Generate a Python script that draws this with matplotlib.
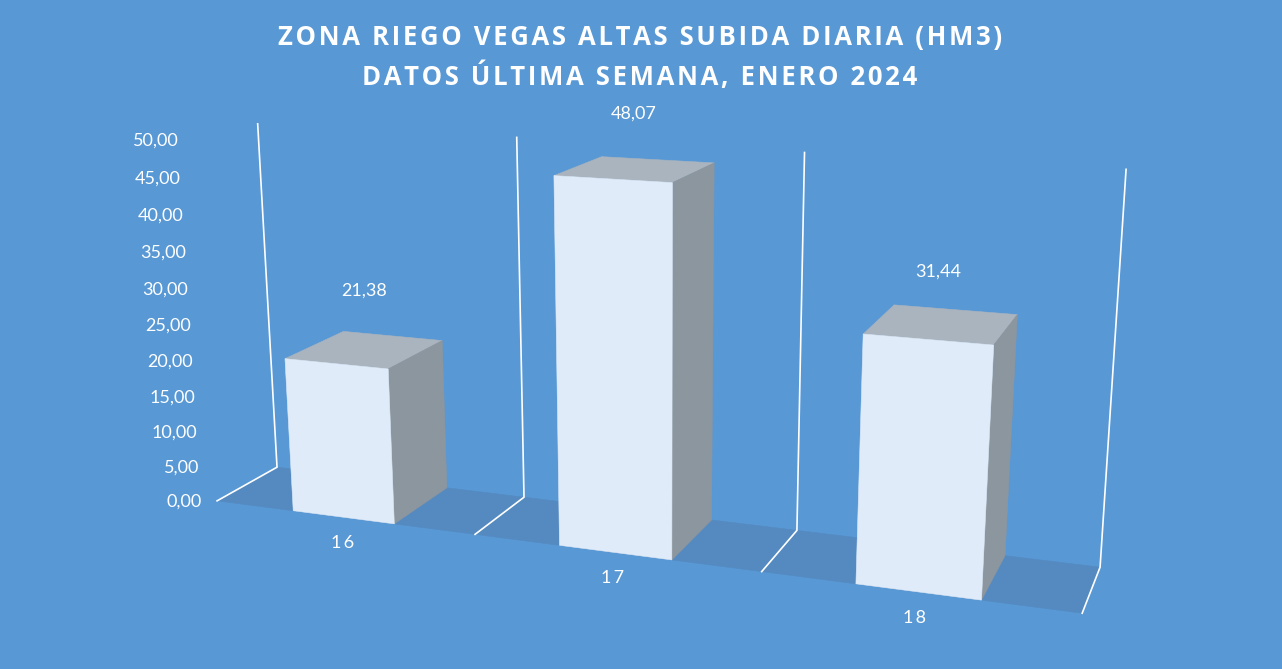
import numpy as np
import matplotlib
matplotlib.use("Agg")
import matplotlib.pyplot as plt

# --- data ---
categories = ["16", "17", "18"]
values = [21.38, 48.07, 31.44]
value_labels = ["21,38", "48,07", "31,44"]
axis_ticks = [0, 5, 10, 15, 20, 25, 30, 35, 40, 45, 50]
title_lines = ["ZONA RIEGO VEGAS ALTAS SUBIDA DIARIA (HM3)", "DATOS ÚLTIMA SEMANA, ENERO 2024"]

BG = "#5898D5"
FLOOR = "#558AC1"
FRONT = "#DFEBF9"
TOP = "#A9B4BE"
SIDE = "#8C969F"
FONT = ["Open Sans", "DejaVu Sans"]
LABEL_FONT = ["Lato", "DejaVu Sans"]

# --- perspective scale: (category, depth, value) -> image pixels ---
# calibrated from the axis frame (floor corners and wall tops)
frame_model = [
    (0, 0, 0), (1, 0, 0), (2, 0, 0), (3, 0, 0),
    (0, 1, 0), (1, 1, 0), (2, 1, 0), (3, 1, 0),
    (0, 1, 50), (1, 1, 50), (2, 1, 50), (3, 1, 50),
]
frame_image = [
    (217, 501), (475, 534), (762, 572), (1082, 613),
    (277, 467), (524, 497), (797, 531), (1100, 567),
    (258, 124), (516, 137), (805, 153), (1126, 169),
]


def fit_projection(model, image):
    rows, rhs = [], []
    for (x, y, z), (u, v) in zip(model, image):
        rows.append([x, y, z, 1, 0, 0, 0, 0, -u * x, -u * y, -u * z])
        rhs.append(u)
        rows.append([0, 0, 0, 0, x, y, z, 1, -v * x, -v * y, -v * z])
        rhs.append(v)
    sol = np.linalg.lstsq(np.array(rows, float), np.array(rhs, float), rcond=None)[0]
    return np.append(sol, 1.0).reshape(3, 4)


P = fit_projection(frame_model, frame_image)


def proj(x, y, z):
    u, v, w = P @ np.array([x, y, z, 1.0])
    return u / w, v / w


fig = plt.figure(figsize=(12.82, 6.69), dpi=100, facecolor=BG)
ax = fig.add_axes([0, 0, 1, 1])
ax.set_xlim(0, 1282)
ax.set_ylim(669, 0)
ax.axis("off")


def face(pts, color, z=3):
    ax.fill(*zip(*[proj(*p) for p in pts]), facecolor=color, edgecolor=color, lw=0.4, zorder=z)


n = len(categories)
face([(0, 0, 0), (n, 0, 0), (n, 1, 0), (0, 1, 0)], FLOOR, 1)

for i in range(n + 1):
    pts = [proj(i, 0, 0), proj(i, 1, 0), proj(i, 1, axis_ticks[-1])]
    ax.plot(*zip(*pts), color="white", lw=1.2, zorder=2, solid_joinstyle="miter")

bar_lo, bar_hi = 0.306, 0.698
thin = "\u2009"
for i, val in enumerate(values):
    x0, x1 = i + bar_lo, i + bar_hi
    face([(x0, 0, val), (x1, 0, val), (x1, 1, val), (x0, 1, val)], TOP)
    face([(x1, 0, 0), (x1, 1, 0), (x1, 1, val), (x1, 0, val)], SIDE)
    face([(x0, 0, 0), (x1, 0, 0), (x1, 0, val), (x0, 0, val)], FRONT, 4)
    cx, cy = proj(i + 0.5, 0.5, val)
    ax.text(cx - 1.5 * i, cy - 59 + 3.5 * i, value_labels[i], color="white", fontsize=13,
            family=LABEL_FONT, ha="center", va="center", zorder=6)
    cx, cy = proj(i + 0.5, 0, 0)
    ax.text(cx - 1.5 * i, cy + 26, thin.join(categories[i]), color="white", fontsize=13,
            family=LABEL_FONT, ha="center", va="center", zorder=6)

for t in axis_ticks:
    px, py = proj(0, 0, t)
    ax.text(px - 15, py + 1, f"{t:.2f}".replace(".", ","), color="white", fontsize=13,
            family=LABEL_FONT, ha="right", va="center", zorder=6)

hair = "\u200a"
for line, yy in zip(title_lines, [38, 77]):
    ax.text(640, yy, hair.join(line), color="white", fontsize=18.5, fontweight="bold",
            family=FONT, ha="center", va="center", zorder=6)

fig.savefig("out.png", dpi=100, facecolor=BG)
